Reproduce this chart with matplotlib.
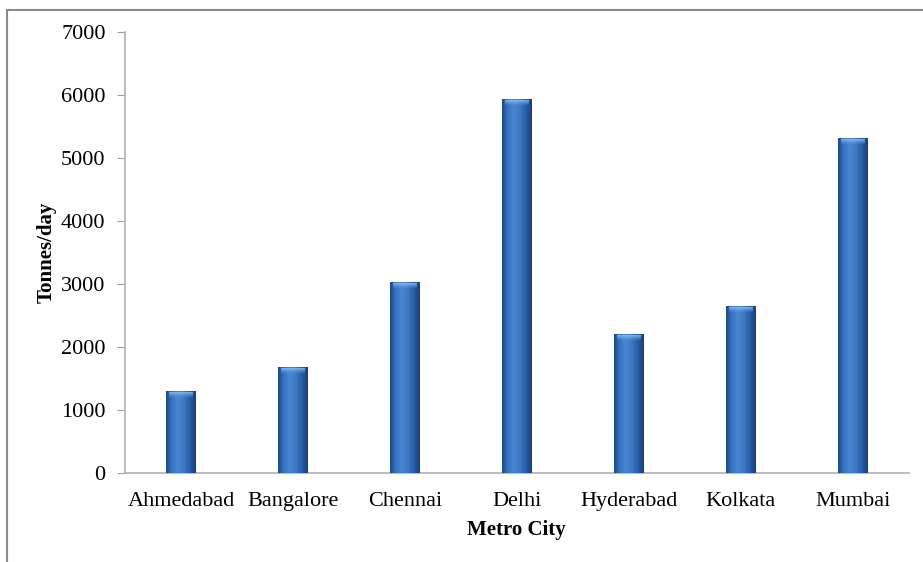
import numpy as np
import matplotlib
matplotlib.use("Agg")
import matplotlib.pyplot as plt
from matplotlib.colors import LinearSegmentedColormap
from matplotlib.patches import Rectangle

cities = ["Ahmedabad", "Bangalore", "Chennai", "Delhi", "Hyderabad", "Kolkata", "Mumbai"]
tonnes_per_day = [1300, 1680, 3030, 5930, 2200, 2650, 5320]
y_ticks = [0, 1000, 2000, 3000, 4000, 5000, 6000, 7000]

plt.rcParams["font.family"] = ["Liberation Serif", "DejaVu Serif"]

fig = plt.figure(figsize=(9.23, 5.62), dpi=100)
ax = fig.add_axes([0.1354, 0.1584, 0.849, 0.7846])

# outer frame (only top and left visible in the source)
fig.patches.append(Rectangle((7 / 923, -0.1), 1.2, 1 - 10 / 562 + 0.1,
                             transform=fig.transFigure, fill=False,
                             edgecolor="#8a8a8a", linewidth=1.5))

x = np.arange(len(cities))
bars = ax.bar(x, tonnes_per_day, width=0.26, color="#3a72bd", zorder=2)

# cylinder-like shading across each bar
shade = LinearSegmentedColormap.from_list(
    "shade", ["#1d4a86", "#3a74c2", "#4a86d2", "#3d78c4", "#2a5ea6", "#173f78"])
grad = np.linspace(0, 1, 64).reshape(1, -1)
cap_cmap = LinearSegmentedColormap.from_list(
    "cap", [(0.36, 0.62, 0.9, 0.0), (0.55, 0.78, 0.98, 0.85)])
vgrad = np.linspace(1, 0, 32).reshape(-1, 1)
for b in bars:
    x0, w, h = b.get_x(), b.get_width(), b.get_height()
    im = ax.imshow(grad, cmap=shade, aspect="auto", zorder=3,
                   extent=[x0, x0 + w, 0, h], interpolation="bicubic")
    im.set_clip_path(b)
    cap = ax.imshow(vgrad, cmap=cap_cmap, aspect="auto", zorder=4,
                    extent=[x0 + w * 0.1, x0 + w * 0.9, h - 110, h - 15],
                    interpolation="bicubic")

ax.set_xlim(-0.5, len(cities) - 0.5)
ax.set_ylim(0, 7000)
ax.set_yticks(y_ticks)
ax.set_xticks(x)
ax.set_xticklabels(cities, fontsize=16)
ax.tick_params(axis="y", labelsize=16, length=6, color="#a0a0a0", pad=8)
ax.tick_params(axis="x", length=0, pad=14)

for s in ["top", "right"]:
    ax.spines[s].set_visible(False)
for s in ["left", "bottom"]:
    ax.spines[s].set_color("#b0b0b0")
    ax.spines[s].set_linewidth(1.2)

ax.set_ylabel("Tonnes/day", fontsize=15, fontweight="bold", labelpad=3)
ax.set_xlabel("Metro City", fontsize=15, fontweight="bold", labelpad=6)

fig.savefig("out.png", dpi=100)
